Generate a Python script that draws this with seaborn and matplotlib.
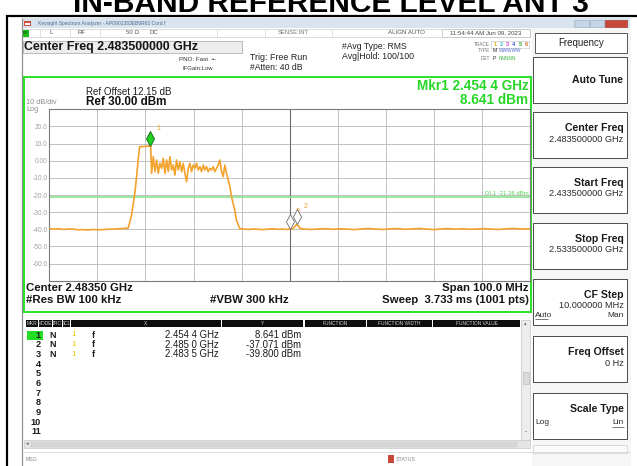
import numpy as np
import pandas as pd
import matplotlib
matplotlib.use("Agg")
import matplotlib.pyplot as plt
from matplotlib.patches import Rectangle
from matplotlib.path import Path
import seaborn as sns

# ---------------- data ----------------
start_freq_ghz = 2.4335
stop_freq_ghz = 2.5335
center_freq_ghz = 2.4835
ref_level_dbm = 30.0
bottom_level_dbm = -70.0
display_line_dbm = -21.36

trace_freq_ghz = [
    # left noise floor
    2.4335, 2.4345, 2.4355, 2.4365, 2.4375, 2.4385, 2.4395, 2.4405, 2.4415,
    2.4425, 2.4435, 2.4445, 2.4455, 2.4465, 2.4475, 2.4485, 2.4495,
    # rising edge and flat top (marker 1)
    2.4499, 2.4506, 2.4513, 2.4517, 2.4520, 2.4523, 2.4530, 2.4537, 2.4544, 2.4546,
    # in-band ripple
    2.45478, 2.45513, 2.45548, 2.45582, 2.45617, 2.45651, 2.45686, 2.45721,
    2.45755, 2.45790, 2.45825, 2.45859, 2.45894, 2.45929, 2.45963, 2.45998,
    2.46032, 2.46067, 2.46102, 2.46136, 2.46171, 2.46206, 2.46240, 2.46275,
    2.46309, 2.46344, 2.46379, 2.46413, 2.46448, 2.46483, 2.46517, 2.46552,
    2.46586, 2.46621, 2.46656, 2.46690, 2.46725, 2.46760, 2.46794, 2.46829,
    2.46864, 2.46898, 2.46933, 2.46967, 2.47002, 2.47037,
    # falling edge
    2.47106, 2.47141, 2.47210, 2.47245, 2.47314,
    # right noise floor (markers 3 and 2)
    2.4740, 2.4750, 2.4760, 2.4770, 2.4780, 2.4790, 2.4800, 2.4810, 2.4820,
    2.4830, 2.4835, 2.4842, 2.4850, 2.4857, 2.4865, 2.4880, 2.4895, 2.4910,
    2.4925, 2.4940, 2.4955, 2.4970, 2.4985, 2.5000, 2.5015, 2.5030, 2.5045,
    2.5060, 2.5075, 2.5090, 2.5105, 2.5120, 2.5135, 2.5150, 2.5165, 2.5180,
    2.5195, 2.5210, 2.5225, 2.5240, 2.5255, 2.5270, 2.5285, 2.5300, 2.5315,
    2.5335,
]
trace_level_dbm = [
    -39.6, -39.9, -39.7, -40.1, -39.8, -39.9, -40.3, -40.2, -40.4,
    -40.1, -40.3, -40.2, -40.0, -39.9, -39.8, -39.6, -39.4,
    -39.4, -32.0, -19.0, -8.0, 1.0, 8.2, 8.3, 8.4, 8.641, 8.4,
    -7.36, 2.36, -6.38, 0.42, -7.36, -1.52, -4.44, 1.39,
    -7.36, 0.42, -6.38, 2.36, -5.41, -2.49, -8.33, 0.42,
    -5.41, -0.55, -6.38, -1.52, -7.36, -12.22, -4.44, -1.52,
    -6.38, -2.49, -4.44, -1.52, -5.41, -3.47, -6.38, -2.49,
    -5.41, -3.47, -6.38, -4.44, -5.41, -3.47, -6.38, -4.44,
    -2.49, 0.42, -6.38, -9.30, -2.49, -7.36,
    -15.0, -21.0, -29.0, -35.0, -39.6,
    -39.9, -40.1, -39.8, -40.0, -40.2, -39.9, -39.7, -40.0, -39.9,
    -40.1, -39.8, -39.6, -37.071, -39.5, -39.9, -40.1, -39.8, -39.6,
    -40.0, -39.7, -39.9, -40.2, -39.8, -39.5, -39.9, -40.1, -39.7,
    -39.6, -40.0, -39.8, -39.5, -39.9, -40.2, -39.8, -39.6, -39.9,
    -39.7, -40.0, -39.8, -39.6, -39.9, -40.1, -39.7, -39.5, -39.8,
    -39.7,
]

marker_ids = ["1", "2", "3"]
marker_freq_ghz = [2.4544, 2.4850, 2.4835]
marker_level_dbm = [8.641, -37.071, -39.800]
marker_x_text = ["2.454 4 GHz", "2.485 0 GHz", "2.483 5 GHz"]
marker_y_text = ["8.641 dBm", "-37.071 dBm", "-39.800 dBm"]

y_tick_values = [20, 10, 0, -10, -20, -30, -40, -50, -60]
y_tick_labels = ["20.0", "10.0", "0.00", "-10.0", "-20.0", "-30.0", "-40.0", "-50.0", "-60.0"]

table_headers = ["MKR", "MODE", "TRC", "SCL", "X", "Y", "FUNCTION", "FUNCTION WIDTH", "FUNCTION VALUE"]
table_rows = ["1", "2", "3", "4", "5", "6", "7", "8", "9", "10", "11"]

softkey_titles = ["Auto Tune", "Center Freq", "Start Freq", "Stop Freq", "CF Step", "Freq Offset", "Scale Type"]
softkey_values = ["", "2.483500000 GHz", "2.433500000 GHz", "2.533500000 GHz", "10.000000 MHz", "0 Hz", ""]

# ---------------- figure ----------------
sns.set_theme(style="white")
plt.rcParams["font.family"] = ["Liberation Sans", "DejaVu Sans"]

W, H = 637, 466
fig = plt.figure(figsize=(W / 100, H / 100), dpi=100)
fig.patch.set_facecolor("white")

bg = fig.add_axes([0, 0, 1, 1])
bg.set_xlim(0, W)
bg.set_ylim(H, 0)
bg.axis("off")

PX = 0.72  # points per pixel


def rect(x0, y0, x1, y1, fc="none", ec="none", lw=0.0, z=1):
    bg.add_patch(Rectangle((x0, y0), x1 - x0, y1 - y0, facecolor=fc,
                           edgecolor=ec, linewidth=lw * PX, zorder=z))


def txt(x, y, s, size=6.0, color="#222222", ha="left", weight="normal", **kw):
    bg.text(x, y, s, fontsize=size, color=color, ha=ha, va="center",
            fontweight=weight, zorder=5, **kw)


def hline(y, x0, x1, color, lw=1.0, z=2):
    bg.plot([x0, x1], [y, y], color=color, lw=lw * PX, zorder=z, solid_capstyle="butt")


def vline(x, y0, y1, color, lw=1.0, z=2):
    bg.plot([x, x], [y0, y1], color=color, lw=lw * PX, zorder=z, solid_capstyle="butt")


# ---- report title & outer frame ----
bg.text(331, 12.3, "IN-BAND REFERENCE LEVEL ANT 3", fontsize=21.5, fontweight="bold",
        ha="center", va="baseline", color="black", zorder=5)
hline(15.5, 5.5, W, "black", lw=2.2)
vline(6.5, 14.5, H, "black", lw=2.2)

# ---- screenshot background ----
rect(22, 17.5, 631, H, fc="white")
vline(22.3, 17.5, H, "#8c8c8c", lw=1.2)

# window title bar
rect(22.5, 18, 630, 28, fc="#d8e3ee")
rect(24, 20.5, 31, 26, fc="#d84a3c")
rect(25, 23, 30, 24.5, fc="white")
txt(38, 23, "Keysight Spectrum Analyzer - AP0902383EB6R62 Cord f", size=3.6, color="#4f6b93")
rect(574, 19.5, 589, 26.5, fc="#c5d5e8", ec="#9aaec8", lw=0.6)
rect(590, 19.5, 604, 26.5, fc="#c5d5e8", ec="#9aaec8", lw=0.6)
rect(605, 19.5, 627, 26.5, fc="#c8473b", ec="#a03028", lw=0.6)

# status bar
rect(22.5, 28.5, 530, 37, fc="white", ec="#c4c4c4", lw=0.6)
rect(23, 29.5, 28.5, 36.5, fc="#19c019")
txt(25.7, 32.8, "LXI", size=2.6, color="#0a3a0a", ha="center")
for sx in [40, 70, 100, 217, 265, 332, 442]:
    vline(sx, 29, 36.5, "#d0d0d0", lw=0.6)
txt(50, 32.6, "L", size=4.4, color="#555555")
txt(78, 32.6, "RF", size=4.4, color="#555555")
txt(126, 32.6, "50 Ω", size=4.4, color="#555555")
txt(150, 32.6, "DC", size=4.4, color="#555555")
txt(278, 32.6, "SENSE:INT", size=4.2, color="#777777")
txt(406, 32.6, "ALIGN AUTO", size=4.4, color="#555555", ha="center")
rect(442, 28.5, 530, 37, fc="white", ec="#b4b4b4", lw=0.6)
txt(486, 32.6, "11:54:44 AM Jun 09, 2023", size=4.4, color="#444444", ha="center")

# settings header
rect(22.5, 40.5, 242, 52.5, fc="#ededed", ec="#a6a6a6", lw=0.7)
txt(24.5, 47, "Center Freq 2.483500000 GHz", size=8.9, weight="bold", color="#151515")
txt(208, 59.3, "PNO: Fast", size=4.5, color="#333333", ha="right")
txt(211, 59.3, "-•-", size=4.5, color="#333333")
txt(213, 68.4, "IFGain:Low", size=4.3, color="#333333", ha="right")
txt(250, 57.9, "Trig: Free Run", size=6.4, color="#222222")
txt(250, 67.7, "#Atten: 40 dB", size=6.2, color="#222222")
txt(342, 46.7, "#Avg Type: RMS", size=6.2, color="#222222")
txt(342, 56.6, "Avg|Hold: 100/100", size=6.3, color="#222222")
txt(490, 44, "TRACE", size=3.4, color="#777777", ha="right")
txt(490, 51, "TYPE", size=3.4, color="#777777", ha="right")
txt(490, 58, "DET", size=3.4, color="#777777", ha="right")
rect(491, 40.5, 529, 47.5, fc="white", ec="#b8b8b8", lw=0.5)
trace_num_colors = ["#e0b000", "#30c0d0", "#d040d0", "#4060e0", "#30b030", "#d07020"]
for k, c in enumerate(trace_num_colors):
    txt(495 + k * 6.3, 44, str(k + 1), size=4.0, color=c, ha="center", weight="bold")
txt(493, 51, "M", size=3.8, color="#333333")
txt(499, 51, "WWWWW", size=3.4, color="#5a6fd0")
txt(493, 58, "P", size=3.8, color="#333333")
txt(499, 58, "NNNNN", size=3.4, color="#40b040")

# green measurement frame
rect(24, 77, 530.7, 311.5, fc="none", ec="#2ee02e", lw=2.0, z=3)
txt(86, 91.7, "Ref Offset 12.15 dB", size=7.0, color="#1e1e1e")
txt(86, 102.3, "Ref 30.00 dBm", size=8.4, weight="bold", color="#111111")
txt(26.5, 102.8, "10 dB/div", size=5.3, color="#8e8e8e")
txt(26.5, 109.5, "Log", size=5.3, color="#8e8e8e")
txt(528.5, 85.5, "Mkr1 2.454 4 GHz", size=9.8, weight="bold", color="#27d627", ha="right")
txt(528.5, 100, "8.641 dBm", size=9.8, weight="bold", color="#27d627", ha="right")
txt(26, 288, "Center 2.48350 GHz", size=8.2, weight="bold", color="#151515")
txt(529, 288, "Span 100.0 MHz", size=8.2, weight="bold", color="#151515", ha="right")
txt(26, 300, "#Res BW 100 kHz", size=8.2, weight="bold", color="#151515")
txt(210, 300, "#VBW 300 kHz", size=8.2, weight="bold", color="#151515")
txt(529, 300, "Sweep  3.733 ms (1001 pts)", size=8.2, weight="bold", color="#151515", ha="right")

# ---- marker table ----
header_spans = [(26, 37.5), (38.5, 51.5), (52.5, 62), (63, 69.5), (70.5, 220.5),
                (222, 303), (305, 365.5), (367, 431.5), (433, 520)]
for (x0, x1), lab in zip(header_spans, table_headers):
    rect(x0, 320, x1, 327, fc="#0e0e0e")
    txt((x0 + x1) / 2, 323.6, lab, size=3.5, color="#d2d2d2", ha="center")
rect(521, 320, 530, 440, fc="#ededed", ec="#bdbdbd", lw=0.6)
txt(525.5, 323.5, "▴", size=3.5, color="#555555", ha="center")
txt(525.5, 432, "-", size=5, color="#555555", ha="center")
rect(522.5, 372, 528.5, 384, fc="#dadada", ec="#b0b0b0", lw=0.5)

rect(26.5, 330.5, 43, 339.5, fc="#22dd22")
row_y0, row_dy = 335.0, 9.7
for i, lab in enumerate(table_rows):
    y = row_y0 + i * row_dy
    txt(41, y, lab, size=6.6, weight="bold", color="#1a1a1a", ha="right")
for i in range(len(marker_ids)):
    y = row_y0 + i * row_dy
    txt(53, y, "N", size=6.4, weight="bold", color="#1a1a1a", ha="center")
    txt(74, y, "1", size=6.0, color="#f0c800", ha="center")
    txt(93, y, "f", size=6.4, weight="bold", color="#1a1a1a", ha="center")
    txt(219, y, marker_x_text[i], size=6.9, color="#1a1a1a", ha="right")
    txt(301, y, marker_y_text[i], size=6.9, color="#1a1a1a", ha="right")

rect(24, 440, 530, 448, fc="#e4e4e4", ec="#c4c4c4", lw=0.6)
rect(31, 441.5, 517, 446.5, fc="#d6d6d6", ec="#c8c8c8", lw=0.4)
txt(27.5, 444, "◂", size=3.6, color="#555555", ha="center")
hline(451.5, 22.5, 630, "#d4d4d4", lw=0.8)
txt(26, 459.5, "MSG", size=3.8, color="#888888")
rect(388, 455, 393.5, 463, fc="#c8463a")
txt(395.5, 459.5, "STATUS", size=3.8, color="#888888")

# ---- softkey panel ----
rect(531.5, 28, 630.5, 466, fc="#f6f6f6")
rect(535, 32.5, 626.5, 52.5, fc="white", ec="#4a4a4a", lw=0.9)
txt(581.5, 42.5, "Frequency", size=7.0, color="#222222", ha="center")
key_tops = [57, 112, 167, 223, 279, 336, 393]
for top, title, val in zip(key_tops, softkey_titles, softkey_values):
    rect(533, top, 626.5, top + 46, fc="white", ec="#3c3c3c", lw=0.9)
    if val == "" and title == "Auto Tune":
        txt(623.5, top + 23, title, size=7.6, weight="bold", color="#1a1a1a", ha="right")
    else:
        txt(623.5, top + 16, title, size=7.6, weight="bold", color="#1a1a1a", ha="right")
        if val:
            txt(623.5, top + 27, val, size=6.6, color="#2a2a2a", ha="right")
txt(535, 315.5, "Auto", size=6.0, color="#2a2a2a")
hline(318.8, 535, 548, "#2a2a2a", lw=0.6, z=6)
txt(623.5, 315.5, "Man", size=6.0, color="#2a2a2a", ha="right")
txt(535, 423, "Log", size=6.0, color="#2a2a2a")
txt(623.5, 423, "Lin", size=6.0, color="#2a2a2a", ha="right")
hline(426.5, 612, 623.5, "#2a2a2a", lw=0.6, z=6)
rect(533, 445, 626.5, 453, fc="#fbfbfb", ec="#c8c8c8", lw=0.6)

# ---------------- graticule (main axes) ----------------
gx0, gx1, gy0, gy1 = 49.3, 530.0, 109.3, 280.7
ax = fig.add_axes([gx0 / W, (H - gy1) / H, (gx1 - gx0) / W, (gy1 - gy0) / H])
ax.set_facecolor("white")
ax.set_xlim(start_freq_ghz, stop_freq_ghz)
ax.set_ylim(bottom_level_dbm, ref_level_dbm)
ax.set_xticks(np.linspace(start_freq_ghz, stop_freq_ghz, 11))
ax.set_yticks(np.linspace(bottom_level_dbm, ref_level_dbm, 11))
ax.grid(True, color="#b8b8b8", lw=0.6)
ax.set_xticklabels([])
lab_map = dict(zip(y_tick_values, y_tick_labels))
ax.set_yticklabels([lab_map.get(int(round(v)), "") for v in ax.get_yticks()])
ax.tick_params(axis="both", length=0, pad=1.2)
ax.tick_params(axis="y", labelsize=4.8, labelcolor="#a2a2a2")
for sp in ax.spines.values():
    sp.set_color("#7a7a7a")
    sp.set_linewidth(0.8)
ax.axvline(center_freq_ghz, color="#6c6c6c", lw=0.8, zorder=1.5)

ax.axhline(display_line_dbm, color="#8be38b", lw=1.2, zorder=2)
ax.text(0.997, display_line_dbm + 0.6, "DL1 -21.36 dBm", transform=ax.get_yaxis_transform(),
        ha="right", va="bottom", fontsize=4.3, color="#5ccc5c", zorder=3)

df = pd.DataFrame({"freq": trace_freq_ghz, "level": trace_level_dbm})
sns.lineplot(data=df, x="freq", y="level", ax=ax, estimator=None, sort=False,
             color="#f3a22b", linewidth=1.2, zorder=4)
ax.set_xlabel("")
ax.set_ylabel("")

diamond = Path([(0, 0), (0.27, 0.5), (0, 1), (-0.27, 0.5), (0, 0)],
               [Path.MOVETO, Path.LINETO, Path.LINETO, Path.LINETO, Path.CLOSEPOLY])
mdf = pd.DataFrame({"id": marker_ids, "freq": marker_freq_ghz, "level": marker_level_dbm})
for _, r in mdf.iloc[::-1].iterrows():
    ax.annotate(r["id"], (r["freq"], r["level"]), xytext=(4.6, 12.6), textcoords="offset points",
                fontsize=5.0, color="#f0a020", ha="left", va="center", zorder=5)
for _, r in mdf.iloc[::-1].iterrows():
    active = r["id"] == "1"
    ax.plot([r["freq"]], [r["level"]], ls="none", marker=diamond, ms=21.6,
            mfc="#1fd21f" if active else "white", mec="#155e15" if active else "#6e6e6e",
            mew=0.6, zorder=6)

fig.savefig("out.png", dpi=100, facecolor="white")
